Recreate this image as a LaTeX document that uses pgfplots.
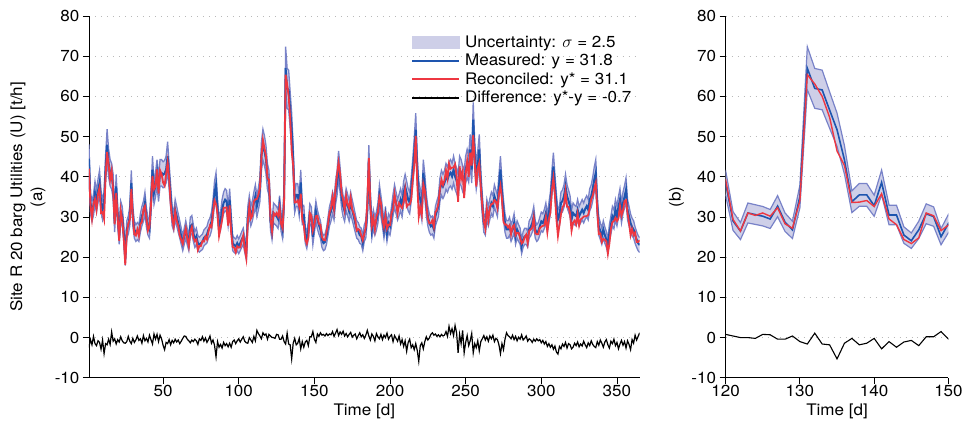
\documentclass[border=0pt]{standalone}
\usepackage{fontspec}
\setmainfont{TeX Gyre Heros}[FakeStretch=1.07]
\usepackage{pgfplots}
\usepackage{pgfplotstable}
\pgfplotsset{compat=1.18}
\usepgfplotslibrary{fillbetween}

\definecolor{bandfill}{RGB}{206,207,232}
\definecolor{bandedge}{RGB}{120,130,200}
\definecolor{mblue}{RGB}{30,85,175}
\definecolor{rred}{RGB}{238,55,65}
\definecolor{gridgray}{RGB}{185,185,185}

% t = day, m = measured y, d = difference y*-y
\pgfplotstableread{
t m d
1 44.5 -2.5
2 33.5 -0.5
3 31.4 -1.8
4 33.0 0.3
5 36.0 -1.5
6 33.9 -2.0
7 36.5 -0.8
8 38.5 -1.2
9 33.9 -2.9
10 31.8 -0.6
11 33.5 -4.0
12 42.0 -1.5
13 48.0 -1.8
14 43.4 -0.4
15 41.0 -1.7
16 40.1 1.4
17 37.6 -0.9
18 28.5 -0.3
19 37.6 -1.6
20 30.2 -0.5
21 25.2 -1.1
22 31.4 0.2
23 30.2 -0.8
24 26.0 -1.3
25 19.5 -1.4
26 26.9 -1.0
27 28.0 0.3
28 30.2 -0.9
29 38.5 -1.5
30 30.2 -0.2
31 26.9 -1.2
32 26.0 -0.6
33 26.5 0.4
34 26.0 -0.7
35 28.5 -0.3
36 30.2 -1.4
37 31.4 0.5
38 33.5 -0.8
39 29.8 -0.2
40 27.7 -1.1
41 26.9 0.6
42 33.5 -0.5
43 41.8 -1.6
44 36.0 0.9
45 38.0 -0.4
46 41.0 0.8
47 36.8 -1.0
48 41.0 0.6
49 41.0 -0.3
50 40.5 -1.9
51 40.8 -3.0
52 41.8 -1.2
53 45.1 -1.5
54 40.1 -0.5
55 35.2 -1.8
56 30.2 -0.7
57 28.9 -1.3
58 31.8 -0.4
59 30.2 -1.1
60 28.5 -0.6
61 26.9 -1.5
62 25.2 -0.9
63 23.5 -0.2
64 25.2 0.4
65 26.9 0.3
66 25.0 -0.4
67 23.5 -0.8
68 27.7 -1.3
69 28.1 -0.6
70 26.0 -1.0
71 24.4 -0.4
72 25.2 -0.8
73 23.5 -1.7
74 23.1 -0.3
75 23.5 -0.7
76 23.8 0.2
77 24.8 -0.9
78 25.2 -0.1
79 25.6 -1.2
80 26.9 -0.5
81 27.5 0.4
82 28.9 -1.4
83 31.8 -0.6
84 36.0 -1.9
85 38.0 -4.8
86 31.8 -1.0
87 27.7 -2.4
88 29.0 -1.7
89 31.8 -2.6
90 33.5 -1.2
91 34.3 -2.0
92 33.9 -1.5
93 30.2 -2.3
94 34.3 -1.4
95 28.5 -2.4
96 23.5 -1.0
97 23.0 -0.6
98 22.7 -1.5
99 23.5 -0.8
100 22.7 -0.3
101 23.5 -1.1
102 24.4 -0.4
103 25.2 0.2
104 23.0 -0.9
105 21.1 -1.3
106 30.2 -1.4
107 32.7 0.0
108 30.2 -0.6
109 31.5 -1.2
110 33.5 0.3
111 35.2 -0.8
112 32.7 1.8
113 34.5 1.0
114 36.8 0.4
115 45.1 -0.3
116 48.0 1.2
117 46.5 0.6
118 44.3 0.9
119 40.0 -0.4
120 38.5 0.8
121 29.0 0.4
122 26.5 0.0
123 31.0 0.0
124 30.6 -0.2
125 30.2 0.8
126 29.5 0.7
127 32.7 -0.4
128 28.7 -0.4
129 26.8 0.4
130 35.1 -1.0
131 67.0 -1.6
132 62.0 1.1
133 61.6 -1.6
134 56.6 -1.8
135 51.7 -5.3
136 44.2 -1.4
137 33.8 -0.2
138 35.5 -1.8
139 35.5 -1.4
140 32.8 -0.2
141 38.6 -2.8
142 30.5 -1.0
143 30.5 -2.4
144 25.5 -1.1
145 24.1 -0.7
146 26.8 -2.0
147 30.8 0.2
148 30.1 0.2
149 25.1 1.5
150 28.4 -0.4
151 31.4 -1.2
152 29.4 0.9
153 28.0 0.3
154 26.9 1.2
155 24.4 0.6
156 23.5 0.8
157 23.8 0.4
158 25.2 1.0
159 27.7 0.5
160 30.2 0.9
161 31.5 0.7
162 33.5 1.5
163 31.8 0.3
164 36.0 1.1
165 38.5 2.0
166 43.0 0.5
167 39.3 1.4
168 35.0 0.8
169 32.7 1.6
170 31.4 0.4
171 34.3 1.0
172 33.0 0.2
173 31.4 0.8
174 33.5 1.3
175 31.8 0.1
176 30.2 0.6
177 28.5 0.9
178 26.9 -0.3
179 26.5 0.5
180 25.5 1.2
181 25.2 0.2
182 23.5 0.7
183 26.0 -0.2
184 26.9 0.6
185 31.8 1.8
186 44.3 0.4
187 33.5 -0.6
188 26.9 0.9
189 29.4 0.3
190 27.7 -0.8
191 29.0 1.0
192 31.0 0.2
193 35.2 -0.3
194 32.7 0.8
195 30.0 -0.5
196 26.9 0.6
197 30.2 0.0
198 26.0 1.1
199 28.5 -0.4
200 27.7 0.3
201 30.2 0.7
202 33.0 -1.0
203 35.2 0.5
204 33.5 -0.2
205 31.8 -0.9
206 33.0 0.4
207 34.3 -1.6
208 32.7 -0.5
209 36.0 -2.2
210 37.6 -0.8
211 36.0 -3.4
212 34.3 -1.2
213 33.5 -0.4
214 36.8 -2.5
215 41.0 -1.8
216 45.9 -3.0
217 51.7 -1.5
218 41.8 -3.2
219 36.0 -5.9
220 34.3 -2.0
221 31.8 -1.3
222 41.0 -2.8
223 37.6 -1.0
224 33.0 0.2
225 30.2 -0.6
226 28.5 -0.1
227 27.7 0.8
228 28.0 1.2
229 26.9 0.6
230 30.2 0.9
231 31.5 0.3
232 32.7 0.7
233 36.8 0.2
234 38.5 0.8
235 37.6 0.4
236 38.5 0.6
237 40.1 1.5
238 39.3 0.3
239 40.5 2.8
240 41.0 1.0
241 40.1 2.2
242 41.8 0.5
243 40.1 3.0
244 39.0 1.2
245 37.6 -3.8
246 41.8 0.8
247 41.0 -1.5
248 39.5 1.8
249 38.5 -3.8
250 41.8 -1.2
251 43.4 0.5
252 42.0 -2.0
253 46.8 -0.8
254 41.8 1.0
255 54.2 -3.8
256 45.1 -1.5
257 40.1 -2.5
258 43.0 -0.8
259 46.8 -3.3
260 38.5 -1.0
261 33.0 -0.3
262 28.5 0.5
263 27.7 -0.6
264 31.8 0.2
265 30.2 -0.9
266 32.0 0.4
267 33.5 -0.3
268 32.7 0.6
269 35.2 -1.0
270 34.0 -0.2
271 32.7 -0.5
272 37.6 -1.8
273 41.8 -4.0
274 36.0 -1.5
275 31.8 -3.0
276 28.5 -0.4
277 26.9 1.2
278 26.9 0.5
279 27.7 0.2
280 26.0 -0.3
281 27.0 0.6
282 28.5 -0.5
283 25.2 0.3
284 26.9 -0.8
285 26.0 0.1
286 25.2 -0.4
287 22.7 0.7
288 24.4 -0.6
289 25.2 -0.2
290 25.2 0.4
291 24.4 -0.9
292 26.9 -0.3
293 27.5 -0.6
294 28.5 -1.2
295 30.2 -0.4
296 26.9 -0.9
297 26.0 -0.3
298 26.5 -0.8
299 27.7 -0.5
300 28.9 -1.3
301 28.5 -0.7
302 29.5 -1.6
303 31.0 -1.0
304 28.5 -2.2
305 31.0 -1.5
306 33.5 -2.4
307 38.5 -1.8
308 42.6 -2.9
309 37.6 -2.1
310 33.0 -3.6
311 29.4 -4.1
312 30.2 -2.2
313 33.5 -2.8
314 34.0 -1.6
315 35.2 -2.2
316 37.6 -1.2
317 35.2 -2.6
318 34.0 -1.5
319 32.7 -1.8
320 29.4 -2.8
321 31.0 -2.4
322 30.5 -1.4
323 30.2 -2.0
324 31.8 -1.1
325 30.2 -2.3
326 31.0 -1.6
327 31.8 -2.1
328 31.0 -0.9
329 32.0 -1.8
330 32.7 -2.5
331 31.8 -1.3
332 34.3 -2.0
333 35.2 -0.8
334 37.0 -1.7
335 39.3 -2.2
336 41.0 -2.5
337 32.7 -1.0
338 27.7 -1.9
339 26.5 -0.6
340 25.2 -1.4
341 26.9 -2.4
342 25.5 -1.1
343 24.4 -0.5
344 22.7 -1.8
345 26.0 -2.6
346 28.0 -0.9
347 30.2 -1.5
348 29.4 -0.4
349 31.8 -2.0
350 30.2 -1.2
351 32.5 -2.8
352 34.3 -1.6
353 31.0 -0.7
354 33.5 -1.9
355 35.0 -1.0
356 36.8 -2.6
357 31.8 -0.8
358 30.2 -1.7
359 28.5 -3.0
360 27.5 -0.5
361 26.9 -1.4
362 25.5 0.6
363 24.4 -0.6
364 23.5 0.3
365 23.0 1.2
}\data

\pgfplotsset{
  mystyle/.style={
    scale only axis, height=362bp,
    axis x line*=bottom, axis y line*=left,
    ymin=-10, ymax=80, ytick={-10,0,10,20,30,40,50,60,70,80},
    ymajorgrids,
    grid style={gridgray, line width=0.8bp, dash pattern=on 1bp off 5bp},
    tick align=outside, major tick length=6bp,
    tick style={black, line width=0.9bp},
    axis line style={black, line width=0.9bp},
    tick label style={font=\fontsize{16}{18}\selectfont},
    xticklabel style={yshift=2.5bp},
    /pgf/number format/assume math mode=true,
    label style={font=\fontsize{16}{18}\selectfont},
    xlabel={Time [d]},
    xlabel style={at={(axis description cs:0.5,-0.092)}, anchor=center},
  }
}

\begin{document}
\begin{tikzpicture}
\begin{axis}[mystyle,
  width=551bp, xmin=1, xmax=365,
  xtick={50,100,150,200,250,300,350},
  ylabel={Site R 20 barg Utilities (U) [t/h]\\[2bp](a)},
  ylabel style={align=center, at={(axis description cs:-0.111,0.5)}, anchor=center},
  legend style={at={(rel axis cs:0.585,0.952)}, anchor=north west, draw=none, fill=none,
    font=\fontsize{16}{18}\selectfont, inner sep=0pt, row sep=1.5bp,
    /tikz/every odd column/.append style={column sep=3bp}},
  legend cell align=left,
]
\addplot[name path=up, draw=none, forget plot] table[x=t, y expr=\thisrow{m}*1.08] {\data};
\addplot[name path=lo, draw=none, forget plot] table[x=t, y expr=\thisrow{m}*0.92] {\data};
\addplot[bandfill, forget plot] fill between[of=up and lo];
\addplot[bandedge, line width=1.3bp, forget plot] table[x=t, y expr=\thisrow{m}*1.08] {\data};
\addplot[bandedge, line width=1.3bp, forget plot] table[x=t, y expr=\thisrow{m}*0.92] {\data};
\addplot[mblue, line width=2bp, forget plot] table[x=t, y=m] {\data};
\addplot[rred, line width=1.8bp, forget plot] table[x=t, y expr=\thisrow{m}+\thisrow{d}] {\data};
\addplot[black, line width=1.2bp, forget plot] table[x=t, y=d] {\data};
\addlegendimage{legend image code/.code={\fill[bandfill] (0bp,-6bp) rectangle (47bp,6bp);}}
\addlegendentry{Uncertainty: $\sigma$ = 2.5}
\addlegendimage{legend image code/.code={\draw[mblue, line width=1.8bp] (0bp,0bp) -- (47bp,0bp);}}
\addlegendentry{Measured: y = 31.8}
\addlegendimage{legend image code/.code={\draw[rred, line width=1.8bp] (0bp,0bp) -- (47bp,0bp);}}
\addlegendentry{Reconciled: y* = 31.1}
\addlegendimage{legend image code/.code={\draw[black, line width=1.5bp] (0bp,0bp) -- (47bp,0bp);}}
\addlegendentry{Difference: y*-y = -0.7}
\end{axis}
\begin{axis}[mystyle, at={(637bp,0bp)}, anchor=south west,
  width=223bp, xmin=120, xmax=150,
  xtick={120,130,140,150},
  ylabel={(b)},
  ylabel style={at={(axis description cs:-0.22,0.5)}, anchor=center},
]
\addplot[name path=up, draw=none, restrict x to domain=118:152] table[x=t, y expr=\thisrow{m}*1.08] {\data};
\addplot[name path=lo, draw=none, restrict x to domain=118:152] table[x=t, y expr=\thisrow{m}*0.92] {\data};
\addplot[bandfill] fill between[of=up and lo];
\addplot[bandedge, line width=1.2bp, restrict x to domain=118:152] table[x=t, y expr=\thisrow{m}*1.08] {\data};
\addplot[bandedge, line width=1.2bp, restrict x to domain=118:152] table[x=t, y expr=\thisrow{m}*0.92] {\data};
\addplot[mblue, line width=1.6bp, restrict x to domain=118:152] table[x=t, y=m] {\data};
\addplot[rred, line width=1.4bp, restrict x to domain=118:152] table[x=t, y expr=\thisrow{m}+\thisrow{d}] {\data};
\addplot[black, line width=1.1bp, restrict x to domain=118:152] table[x=t, y=d] {\data};
\end{axis}
\path (-89bp,-52bp) rectangle (877bp,378bp);
\end{tikzpicture}
\end{document}
